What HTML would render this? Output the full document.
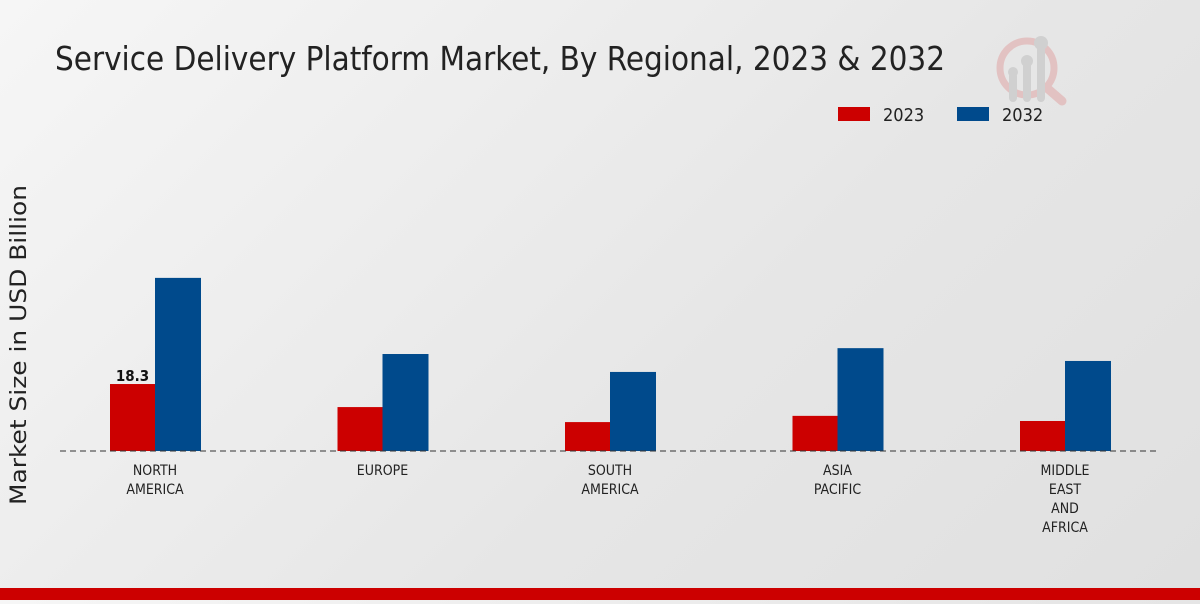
<!DOCTYPE html>
<html><head><meta charset="utf-8"><style>
html,body{margin:0;padding:0}
body{width:1200px;height:600px;overflow:hidden;background:linear-gradient(135deg,#f6f6f6 0%,#e6e6e6 60%,#e0e0e0 100%);font-family:"DejaVu Sans Condensed","Liberation Sans Narrow","Liberation Sans",sans-serif;}
</style></head><body>
<svg width="1200" height="600" xmlns="http://www.w3.org/2000/svg">
<text x="55" y="70" font-size="33" textLength="890" lengthAdjust="spacingAndGlyphs" fill="#222" font-family="DejaVu Sans Condensed, Liberation Sans Narrow, sans-serif">Service Delivery Platform Market, By Regional, 2023 &amp; 2032</text>
<g opacity="0.5">
<circle cx="1027" cy="68" r="27" fill="none" stroke="#e0a0a0" stroke-width="7"/>
<line x1="1047" y1="88" x2="1062" y2="101" stroke="#e0a0a0" stroke-width="9" stroke-linecap="round"/>
<rect x="1009" y="72" width="8" height="30" rx="4" fill="#bbb"/>
<rect x="1023" y="60" width="8" height="42" rx="4" fill="#bbb"/>
<rect x="1037" y="46" width="8" height="56" rx="4" fill="#bbb"/>
<circle cx="1013" cy="72" r="5" fill="#bbb"/><circle cx="1027" cy="61" r="6" fill="#bbb"/><circle cx="1041" cy="43" r="7" fill="#bbb"/>
</g>
<g>
<rect x="838" y="107" width="32" height="14" fill="#cc0000"/>
<text x="883" y="121" font-size="18" fill="#222">2023</text>
<rect x="957" y="107" width="32" height="14" fill="#004a8c"/>
<text x="1002" y="121" font-size="18" fill="#222">2032</text>
</g>
<text transform="translate(26,345) rotate(-90)" text-anchor="middle" font-size="22" textLength="320" lengthAdjust="spacingAndGlyphs" fill="#222" font-family="DejaVu Sans, sans-serif">Market Size in USD Billion</text>
<g id="bars"></g>
<line x1="60" y1="451" x2="1160" y2="451" stroke="#333" stroke-dasharray="6,4" stroke-width="1"/>
<g id="labels"></g>
<rect x="0" y="588" width="1200" height="12" fill="#cc0000"/>
</svg>
<script>
const categories=[["NORTH","AMERICA"],["EUROPE"],["SOUTH","AMERICA"],["ASIA","PACIFIC"],["MIDDLE","EAST","AND","AFRICA"]];
const values2023=[18.3,12.0,7.9,9.6,8.2];
const values2032=[47.3,26.5,21.6,28.1,24.6];
const NS="http://www.w3.org/2000/svg";
const base=451, scale=3.66, x0=155, step=227.5, bw=45;
const y=v=>base-v*scale;
const bars=document.getElementById('bars'), labels=document.getElementById('labels');
categories.forEach((c,i)=>{
  const cx=x0+i*step;
  const r=document.createElementNS(NS,'rect');
  r.setAttribute('x',cx-bw);r.setAttribute('y',y(values2023[i]));r.setAttribute('width',bw);r.setAttribute('height',base-y(values2023[i]));r.setAttribute('fill','#cc0000');
  
  
  bars.appendChild(r);
  const b=document.createElementNS(NS,'rect');
  b.setAttribute('x',cx);b.setAttribute('y',y(values2032[i]));b.setAttribute('width',bw+1);b.setAttribute('height',base-y(values2032[i]));b.setAttribute('fill','#004a8c');
  
  
  bars.appendChild(b);
  c.forEach((line,j)=>{
    const t=document.createElementNS(NS,'text');
    t.setAttribute('x',cx);t.setAttribute('y',475+j*19);t.setAttribute('text-anchor','middle');t.setAttribute('font-size','14');t.setAttribute('fill','#222');
    t.textContent=line;
    
    
    labels.appendChild(t);
  });
});
const v=document.createElementNS(NS,'text');
v.setAttribute('x',x0-bw/2);v.setAttribute('y',y(values2023[0])-3);v.setAttribute('text-anchor','middle');v.setAttribute('font-size','15');v.setAttribute('font-weight','bold');v.setAttribute('fill','#111');
v.textContent=values2023[0].toFixed(1);


labels.appendChild(v);
</script>
</body></html>
